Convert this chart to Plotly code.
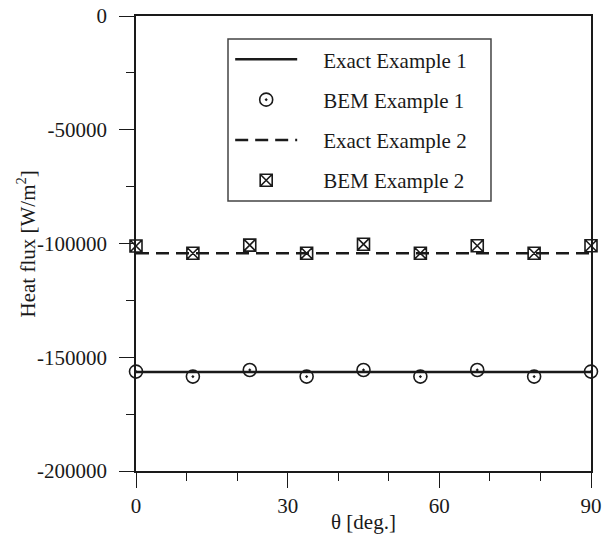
import plotly.graph_objects as go

# ---- data ----
theta_exact = [0, 90]
exact_ex1 = [-156500, -156500]
exact_ex2 = [-104300, -104300]

theta_bem = [0, 11.25, 22.5, 33.75, 45, 56.25, 67.5, 78.75, 90]
bem_ex1 = [-156300, -158500, -155600, -158500, -155600, -158500, -155600, -158500, -156300]
bem_ex2 = [-101100, -104300, -100700, -104300, -100300, -104300, -101000, -104300, -101000]

x_tickvals = [0, 30, 60, 90]
x_ticktext = ["0", "30", "60", "90"]
y_tickvals = [0, -50000, -100000, -150000, -200000]
y_ticktext = ["0", "-50000", "-100000", "-150000", "-200000"]

series_names = ["Exact Example 1", "BEM Example 1", "Exact Example 2", "BEM Example 2"]

FONT = "'Liberation Serif', 'Times New Roman', serif"
INK = "#1a1a1a"
PAD = "\u2002\u2002"  # gap between legend symbol and text


def label(i):
    return PAD + series_names[i]


fig = go.Figure()
fig.add_trace(go.Scatter(
    x=theta_exact, y=exact_ex1, mode="lines", name=label(0),
    line=dict(color=INK, width=2.5), legendgroup="a"))
fig.add_trace(go.Scatter(
    x=theta_bem, y=bem_ex1, mode="markers", name=label(1),
    marker=dict(symbol="circle-open-dot", size=13, color=INK, line=dict(width=1.6, color=INK)),
    legendgroup="b", cliponaxis=False))
fig.add_trace(go.Scatter(
    x=theta_exact, y=exact_ex2, mode="lines", name=label(2),
    line=dict(color=INK, width=2.5, dash="13px,7px"), legendgroup="c"))
fig.add_trace(go.Scatter(
    x=theta_bem, y=bem_ex2, mode="markers", name=label(3),
    marker=dict(symbol="square-x-open", size=12, color=INK, line=dict(width=1.6, color=INK)),
    legendgroup="d", cliponaxis=False))

axis_common = dict(
    showline=True, linecolor=INK, linewidth=1.5, mirror=True,
    ticks="outside", ticklen=15, tickwidth=1.3, tickcolor=INK,
    showgrid=False, zeroline=False, automargin=False,
    tickfont=dict(family=FONT, size=21, color=INK),
)

fig.update_layout(
    width=615, height=534,
    margin=dict(l=136, r=24, t=16, b=63),
    paper_bgcolor="white", plot_bgcolor="white",
    font=dict(family=FONT, size=21, color=INK),
    xaxis=dict(
        range=[0, 90], tickvals=x_tickvals, ticktext=x_ticktext,
        minor=dict(dtick=10, tick0=0, ticks="outside", ticklen=8, tickwidth=1.3, tickcolor=INK),
        title=dict(text="θ [deg.]", font=dict(family=FONT, size=21, color=INK), standoff=2),
        **axis_common),
    yaxis=dict(
        range=[-200000, 0], tickvals=y_tickvals, ticktext=y_ticktext,
        minor=dict(dtick=25000, tick0=0, ticks="outside", ticklen=8, tickwidth=1.3, tickcolor=INK),
        ticklabelstandoff=8,
        **axis_common),
    annotations=[dict(
        text="Heat flux [W/m<sup>2</sup>]", textangle=-90,
        xref="paper", yref="paper", x=-0.2396, y=0.5,
        xanchor="center", yanchor="middle", showarrow=False,
        font=dict(family=FONT, size=21, color=INK))],
    shapes=[dict(
        type="rect", xref="paper", yref="paper",
        x0=0.2022, x1=0.7802, y0=0.5934, y1=0.9495,
        line=dict(color="#444", width=1.5), fillcolor="white", layer="above")],
    legend=dict(
        x=0.207, y=0.949, xanchor="left", yanchor="top",
        borderwidth=0, bgcolor="rgba(0,0,0,0)",
        font=dict(family=FONT, size=21, color=INK),
        itemwidth=62, tracegroupgap=10,
    ),
    showlegend=True,
)

fig.write_html("out.html")
